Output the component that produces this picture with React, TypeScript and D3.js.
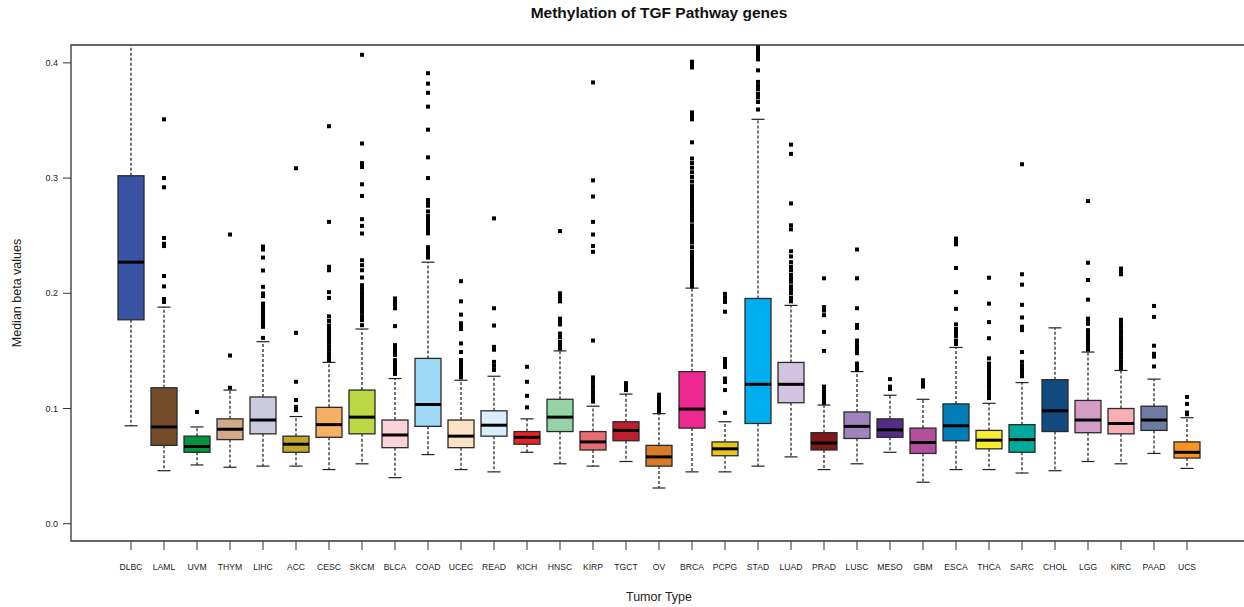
import React, { useRef, useEffect } from 'react';
import * as d3 from 'd3';

const tumorTypes = ['DLBC', 'LAML', 'UVM', 'THYM', 'LIHC', 'ACC', 'CESC', 'SKCM', 'BLCA', 'COAD', 'UCEC', 'READ', 'KICH', 'HNSC', 'KIRP', 'TGCT', 'OV', 'BRCA', 'PCPG', 'STAD', 'LUAD', 'PRAD', 'LUSC', 'MESO', 'GBM', 'ESCA', 'THCA', 'SARC', 'CHOL', 'LGG', 'KIRC', 'PAAD', 'UCS'];

const boxColors = ['#3953A4', '#754C29', '#00963F', '#D2AA88', '#CACCDD', '#C1A72F', '#F5B066', '#BCD843', '#FAD2D9', '#9EDAF6', '#FBE2C7', '#DAEEF9', '#ED2024', '#96D4A8', '#EA6B73', '#BE1E2D', '#D97C27', '#ED2891', '#E8C51D', '#00AEEF', '#D3C3E0', '#7E1918', '#A084BD', '#542C88', '#B2509E', '#007EB5', '#F9ED32', '#00A99D', '#104A7F', '#D49DC7', '#F8AFB3', '#6E7BA2', '#F89420'];

const lowerWhisker = [0.085, 0.046, 0.051, 0.049, 0.050, 0.050, 0.047, 0.052, 0.040, 0.060, 0.047, 0.045, 0.062, 0.052, 0.050, 0.054, 0.031, 0.045, 0.045, 0.050, 0.058, 0.047, 0.052, 0.062, 0.036, 0.047, 0.047, 0.044, 0.046, 0.054, 0.052, 0.061, 0.048];
const lowerQuartile = [0.177, 0.068, 0.062, 0.073, 0.078, 0.062, 0.075, 0.078, 0.066, 0.0845, 0.066, 0.076, 0.069, 0.080, 0.064, 0.072, 0.050, 0.083, 0.059, 0.087, 0.105, 0.064, 0.074, 0.075, 0.061, 0.072, 0.065, 0.062, 0.080, 0.079, 0.078, 0.081, 0.057];
const medians = [0.227, 0.084, 0.067, 0.082, 0.090, 0.069, 0.086, 0.0925, 0.077, 0.1035, 0.076, 0.0855, 0.075, 0.0925, 0.071, 0.081, 0.058, 0.0995, 0.065, 0.121, 0.121, 0.070, 0.0845, 0.0815, 0.0705, 0.085, 0.0725, 0.073, 0.098, 0.090, 0.087, 0.090, 0.062];
const upperQuartile = [0.302, 0.118, 0.076, 0.091, 0.110, 0.076, 0.101, 0.116, 0.090, 0.1435, 0.090, 0.098, 0.080, 0.108, 0.080, 0.0885, 0.068, 0.132, 0.071, 0.1955, 0.140, 0.079, 0.097, 0.091, 0.083, 0.104, 0.081, 0.086, 0.125, 0.107, 0.100, 0.102, 0.071];
const upperWhisker = [0.46, 0.188, 0.084, 0.116, 0.158, 0.093, 0.140, 0.169, 0.126, 0.227, 0.1245, 0.128, 0.091, 0.150, 0.102, 0.1125, 0.0955, 0.2045, 0.0885, 0.351, 0.1895, 0.103, 0.132, 0.1115, 0.108, 0.153, 0.1045, 0.1225, 0.170, 0.149, 0.133, 0.1255, 0.092];

// outlying samples per tumor type (same order as tumorTypes)
const outliers: number[][] = [
  [],
  [0.351, 0.300, 0.292, 0.248, 0.243, 0.241, 0.215, 0.206, 0.195, 0.1925],
  [0.097],
  [0.251, 0.146, 0.118],
  [0.2406, 0.238, 0.231, 0.2198, 0.2056, 0.1998, 0.1975, 0.1911, 0.1882, 0.1853, 0.1825, 0.1795, 0.1767, 0.1738, 0.1709, 0.1613],
  [0.3085, 0.1657, 0.1232, 0.1073, 0.1015, 0.0986],
  [0.345, 0.262, 0.223, 0.220, 0.201, 0.196, 0.180, 0.176, 0.172, 0.169, 0.166, 0.163, 0.160, 0.157, 0.154, 0.151, 0.148, 0.145, 0.142],
  [0.407, 0.330, 0.313, 0.3096, 0.2946, 0.2845, 0.2643, 0.2585, 0.2519, 0.2287, 0.2244, 0.220, 0.2137, 0.207, 0.204, 0.201, 0.198, 0.195, 0.192, 0.189, 0.186, 0.183, 0.1795, 0.1767, 0.1723],
  [0.1955, 0.193, 0.190, 0.187, 0.1715, 0.155, 0.152, 0.149, 0.1465, 0.142, 0.139, 0.136, 0.133, 0.130],
  [0.391, 0.382, 0.374, 0.362, 0.342, 0.318, 0.300, 0.281, 0.278, 0.276, 0.271, 0.267, 0.264, 0.261, 0.258, 0.255, 0.252, 0.240, 0.237, 0.234, 0.231],
  [0.2105, 0.193, 0.1815, 0.174, 0.171, 0.169, 0.1565, 0.149, 0.142, 0.139, 0.136, 0.133, 0.130, 0.127],
  [0.265, 0.187, 0.172, 0.1535, 0.151, 0.1405, 0.137, 0.1335],
  [0.1362, 0.1232, 0.111, 0.101],
  [0.254, 0.200, 0.198, 0.195, 0.193, 0.178, 0.176, 0.173, 0.165, 0.162, 0.158, 0.155, 0.152],
  [0.383, 0.298, 0.284, 0.262, 0.251, 0.241, 0.236, 0.159, 0.127, 0.124, 0.121, 0.118, 0.115, 0.112, 0.109, 0.106],
  [0.122, 0.120, 0.118, 0.116],
  [0.112, 0.110, 0.108, 0.106, 0.104, 0.101, 0.099, 0.097],
  [0.401, 0.3985, 0.396, 0.357, 0.354, 0.351, 0.331, 0.317, 0.313, 0.309, 0.305, 0.301, 0.297, 0.293, 0.290, 0.287, 0.284, 0.281, 0.278, 0.275, 0.272, 0.269, 0.266, 0.263, 0.259, 0.256, 0.253, 0.250, 0.247, 0.244, 0.240, 0.236, 0.233, 0.230, 0.227, 0.224, 0.221, 0.218, 0.215, 0.212, 0.209, 0.206],
  [0.1995, 0.196, 0.1925, 0.184, 0.143, 0.1395, 0.136, 0.126, 0.123, 0.116, 0.0963],
  [0.43, 0.42, 0.415, 0.412, 0.409, 0.406, 0.403, 0.3935, 0.3835, 0.380, 0.377, 0.373, 0.370, 0.366, 0.3595],
  [0.329, 0.321, 0.278, 0.259, 0.2555, 0.2365, 0.232, 0.227, 0.223, 0.220, 0.216, 0.213, 0.210, 0.206, 0.203, 0.200, 0.196, 0.193],
  [0.213, 0.188, 0.185, 0.181, 0.1665, 0.150, 0.119, 0.116, 0.113, 0.110, 0.107, 0.105],
  [0.238, 0.213, 0.187, 0.1725, 0.170, 0.159, 0.156, 0.1535, 0.151, 0.148, 0.139, 0.136, 0.1335],
  [0.1255, 0.119, 0.117],
  [0.1245, 0.122, 0.119],
  [0.2475, 0.245, 0.2425, 0.222, 0.201, 0.1865, 0.173, 0.169, 0.166, 0.163, 0.159, 0.156],
  [0.2135, 0.191, 0.175, 0.161, 0.1435, 0.139, 0.136, 0.133, 0.130, 0.127, 0.124, 0.121, 0.118, 0.115, 0.112, 0.109],
  [0.312, 0.2165, 0.2075, 0.190, 0.179, 0.171, 0.168, 0.149, 0.1405, 0.137, 0.134, 0.131, 0.128],
  [],
  [0.280, 0.2265, 0.2115, 0.1945, 0.178, 0.176, 0.1735, 0.168, 0.165, 0.162, 0.159, 0.156, 0.153, 0.151],
  [0.2215, 0.219, 0.2165, 0.177, 0.174, 0.171, 0.168, 0.165, 0.162, 0.159, 0.156, 0.153, 0.150, 0.147, 0.144, 0.141, 0.138, 0.135],
  [0.189, 0.1795, 0.1545, 0.1475, 0.145, 0.1365],
  [0.110, 0.104, 0.0965, 0.095],
];

const yTicks = [0, 0.1, 0.2, 0.3, 0.4];

const FONT = '"Liberation Sans", Arial, Helvetica, sans-serif';

const App = () => {
  const svgRef = useRef<SVGSVGElement>(null);

  useEffect(() => {
    const svg = d3.select(svgRef.current);
    svg.selectAll('*').remove();

    const width = 1244;
    const height = 607;
    const margin = { top: 45, right: 0, bottom: 66, left: 71 };
    const plotBottom = height - margin.bottom;

    // scales
    const x = d3.scalePoint<string>().domain(tumorTypes).range([margin.left + 60, width - 57]);
    const y = d3.scaleLinear().domain([-0.015, 0.4155]).range([plotBottom, margin.top]);
    const boxWidth = 26;
    const capWidth = 13;

    svg.append('defs')
      .append('clipPath')
      .attr('id', 'plot-clip')
      .append('rect')
      .attr('x', margin.left)
      .attr('y', margin.top)
      .attr('width', width - margin.left)
      .attr('height', plotBottom - margin.top);

    const plot = svg.append('g').attr('clip-path', 'url(#plot-clip)');

    tumorTypes.forEach((t, i) => {
      const cx = x(t) as number;
      const g = plot.append('g');

      // whiskers
      g.append('line')
        .attr('x1', cx).attr('x2', cx)
        .attr('y1', y(upperQuartile[i])).attr('y2', y(upperWhisker[i]))
        .attr('stroke', '#000').attr('stroke-width', 1.1).attr('stroke-dasharray', '3,2');
      g.append('line')
        .attr('x1', cx).attr('x2', cx)
        .attr('y1', y(lowerQuartile[i])).attr('y2', y(lowerWhisker[i]))
        .attr('stroke', '#000').attr('stroke-width', 1.1).attr('stroke-dasharray', '3,2');

      // caps
      [upperWhisker[i], lowerWhisker[i]].forEach((v) => {
        g.append('line')
          .attr('x1', cx - capWidth / 2).attr('x2', cx + capWidth / 2)
          .attr('y1', y(v)).attr('y2', y(v))
          .attr('stroke', '#222').attr('stroke-width', 1.2);
      });

      // box
      g.append('rect')
        .attr('x', cx - boxWidth / 2)
        .attr('y', y(upperQuartile[i]))
        .attr('width', boxWidth)
        .attr('height', y(lowerQuartile[i]) - y(upperQuartile[i]))
        .attr('fill', boxColors[i])
        .attr('stroke', '#2a2a2a')
        .attr('stroke-width', 1.3);

      // median
      g.append('line')
        .attr('x1', cx - boxWidth / 2).attr('x2', cx + boxWidth / 2)
        .attr('y1', y(medians[i])).attr('y2', y(medians[i]))
        .attr('stroke', '#000').attr('stroke-width', 3);

      // outliers
      g.selectAll('rect.out')
        .data(outliers[i])
        .enter()
        .append('rect')
        .attr('class', 'out')
        .attr('x', cx - 2)
        .attr('y', (d) => y(d) - 2)
        .attr('width', 4)
        .attr('height', 4)
        .attr('fill', '#000');
    });

    // frame (right edge runs past the picture)
    svg.append('path')
      .attr('d', `M${width + 5},${margin.top}H${margin.left}V${plotBottom}H${width + 5}`)
      .attr('fill', 'none')
      .attr('stroke', '#333')
      .attr('stroke-width', 1.3);

    // y axis ticks
    const yAxis = svg.append('g');
    yTicks.forEach((v) => {
      yAxis.append('line')
        .attr('x1', margin.left - 8).attr('x2', margin.left)
        .attr('y1', y(v)).attr('y2', y(v))
        .attr('stroke', '#333').attr('stroke-width', 1);
      yAxis.append('text')
        .attr('x', margin.left - 13)
        .attr('y', y(v) + 3)
        .attr('text-anchor', 'end')
        .style('font-family', FONT)
        .style('font-size', '9px')
        .style('fill', '#222')
        .text(d3.format('.1f')(v));
    });

    // x axis ticks
    const xAxis = svg.append('g');
    tumorTypes.forEach((t) => {
      const cx = x(t) as number;
      xAxis.append('line')
        .attr('x1', cx).attr('x2', cx)
        .attr('y1', plotBottom).attr('y2', plotBottom + 9)
        .attr('stroke', '#333').attr('stroke-width', 1);
      xAxis.append('text')
        .attr('x', cx)
        .attr('y', plotBottom + 29)
        .attr('text-anchor', 'middle')
        .style('font-family', FONT)
        .style('font-size', '8.6px')
        .style('fill', '#222')
        .text(t);
    });

    // titles
    svg.append('text')
      .attr('x', 659)
      .attr('y', 18)
      .attr('text-anchor', 'middle')
      .style('font-family', FONT)
      .style('font-size', '15.5px')
      .style('font-weight', 'bold')
      .style('fill', '#111')
      .text('Methylation of TGF Pathway genes');

    svg.append('text')
      .attr('x', 659)
      .attr('y', 601)
      .attr('text-anchor', 'middle')
      .style('font-family', FONT)
      .style('font-size', '12.5px')
      .style('fill', '#222')
      .text('Tumor Type');

    svg.append('text')
      .attr('transform', `translate(21, 293) rotate(-90)`)
      .attr('text-anchor', 'middle')
      .style('font-family', FONT)
      .style('font-size', '12.5px')
      .style('fill', '#222')
      .text('Median beta values');
  }, []);

  return (
    <svg
      ref={svgRef}
      width={1244}
      height={607}
      style={{ position: 'absolute', left: 0, top: 0, background: '#fff', display: 'block' }}
    />
  );
};

export default App;
